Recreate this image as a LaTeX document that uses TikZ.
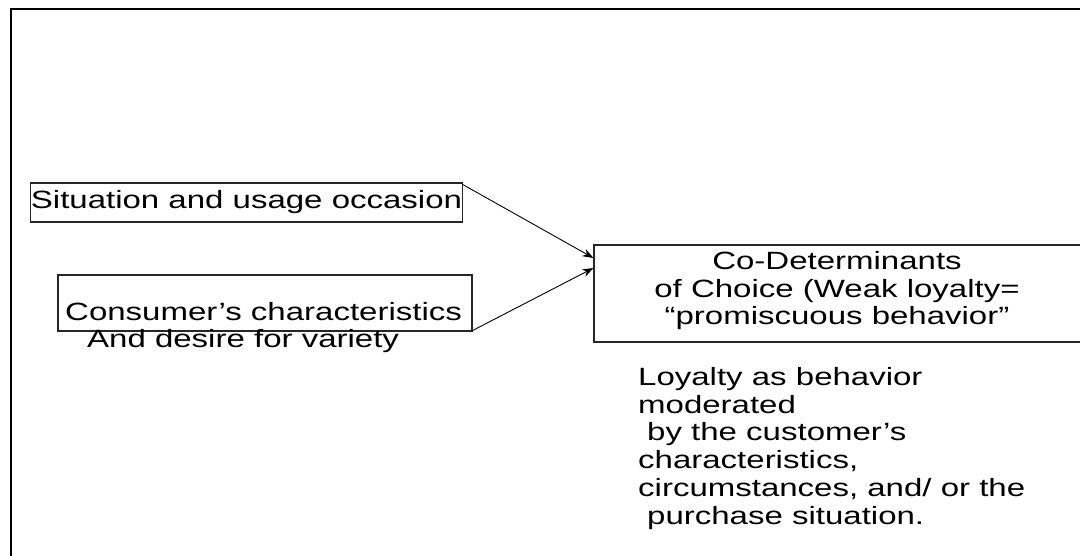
\documentclass[tikz,border=0pt]{standalone}
\usepackage{fontspec}
\setmainfont[FakeStretch=1.32]{Liberation Sans}
\usetikzlibrary{arrows.meta}
\begin{document}
\begin{tikzpicture}[x=1pt,y=-1pt,
  box/.style={draw=black!85, line width=1.1pt, inner sep=0pt},
  txt/.style={inner sep=0pt, font=\fontsize{25}{27.7}\selectfont},
  link/.style={-{Stealth[length=11pt,width=8pt]}, line width=0.9pt}]
  \useasboundingbox (0,0) rectangle (1080,556);
  \clip (0,0) rectangle (1080,556);
  % outer frame
  \draw[line width=2pt] (11,9.5) rectangle (1100,600);

  % influencing factors
  \node[box, txt, minimum width=431pt, minimum height=39pt] (sit) at (246.5,202.5)
    {Situation and usage occasion};
  \node[box, minimum width=414pt, minimum height=56pt] (cons) at (265,303) {};
  \node[txt, align=left, anchor=base west] (consT) at (65,348)
    {Consumer’s characteristics\\\hspace*{22pt}And desire for variety};

  % outcome
  \node[box, minimum width=488pt, minimum height=97pt] (codet) at (838,293.5) {};
  \node[txt, align=center, anchor=base] (codetT) at (837,325)
    {Co-Determinants\\of Choice (Weak loyalty=\\“promiscuous behavior”};

  % note
  \node[txt, align=left, anchor=base west] (loyal) at (638,524)
    {Loyalty as behavior\\moderated\\\hspace*{9pt}by the customer’s\\characteristics,\\circumstances, and/ or the\\\hspace*{9pt}purchase situation.};

  % connectors
  \draw[link] ([yshift=-2pt]sit.north east) -- ([yshift=35.5pt]codet.west);
  \draw[link] ([yshift=1pt]cons.south east) -- ([yshift=25.5pt]codet.west);
\end{tikzpicture}
\end{document}
